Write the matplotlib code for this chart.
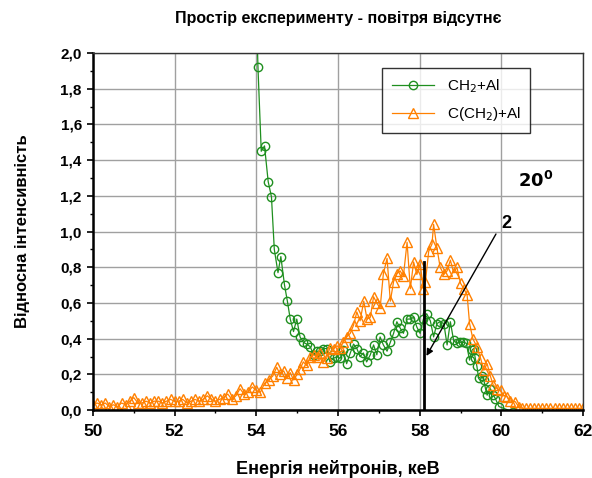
import matplotlib
matplotlib.use("Agg")
import matplotlib.pyplot as plt
from matplotlib.ticker import MultipleLocator

plt.rcParams['font.family'] = ['Liberation Sans', 'DejaVu Sans']

# CH2+Al (круги)
ch2_x = [53.96, 54.04, 54.12, 54.20, 54.29, 54.37, 54.44, 54.53, 54.60, 54.69,
         54.76, 54.83, 54.91, 54.99, 55.07, 55.15, 55.23, 55.32, 55.40, 55.48,
         55.56, 55.64, 55.72, 55.80, 55.89, 55.97, 56.05, 56.13, 56.21, 56.30,
         56.38, 56.46, 56.54, 56.62, 56.70, 56.79, 56.87, 56.95, 57.03, 57.11,
         57.20, 57.28, 57.36, 57.44, 57.52, 57.60, 57.69, 57.77, 57.85, 57.93,
         58.01, 58.09, 58.17, 58.26, 58.34, 58.42, 58.50, 58.59, 58.67, 58.75,
         58.83, 58.91, 58.99, 59.07, 59.14, 59.22, 59.28, 59.32, 59.36, 59.40,
         59.44, 59.52, 59.57, 59.61, 59.65, 59.73, 59.80, 59.85, 59.94, 60.28]
ch2_y = [2.60, 1.92, 1.45, 1.48, 1.28, 1.195, 0.90, 0.77, 0.86, 0.70,
         0.61, 0.51, 0.44, 0.51, 0.41, 0.38, 0.37, 0.355, 0.31, 0.33,
         0.33, 0.345, 0.345, 0.27, 0.29, 0.30, 0.29, 0.335, 0.26, 0.32,
         0.37, 0.345, 0.30, 0.32, 0.27, 0.31, 0.365, 0.31, 0.41, 0.365,
         0.33, 0.38, 0.43, 0.495, 0.46, 0.43, 0.51, 0.51, 0.52, 0.465,
         0.43, 0.51, 0.54, 0.50, 0.41, 0.485, 0.495, 0.485, 0.365, 0.495,
         0.39, 0.375, 0.38, 0.38, 0.375, 0.28, 0.336, 0.345, 0.29, 0.245,
         0.18, 0.19, 0.168, 0.12, 0.084, 0.12, 0.084, 0.065, 0.02, -0.01]

# C(CH2)+Al (трикутники)
cch2_x = [50.0, 50.1, 50.2, 50.3, 50.4, 50.5, 50.6, 50.7, 50.8, 50.9,
          51.0, 51.1, 51.2, 51.3, 51.4, 51.5, 51.6, 51.7, 51.8, 51.9,
          52.0, 52.1, 52.2, 52.3, 52.4, 52.5, 52.6, 52.7, 52.8, 52.9,
          53.0, 53.1, 53.2, 53.3, 53.4, 53.5, 53.6, 53.7, 53.8, 53.9,
          54.0, 54.1, 54.2, 54.3, 54.4, 54.5, 54.58, 54.67, 54.75, 54.83,
          54.91, 55.0, 55.07, 55.15, 55.23, 55.32, 55.4, 55.48, 55.56, 55.64,
          55.72, 55.8, 55.89, 55.97, 56.05, 56.13, 56.21, 56.3, 56.38, 56.46,
          56.54, 56.63, 56.71, 56.79, 56.87, 56.95, 57.03, 57.11, 57.2, 57.28,
          57.36, 57.44, 57.52, 57.6, 57.69, 57.77, 57.85, 57.93, 58.01, 58.09,
          58.14, 58.22, 58.3, 58.34, 58.42, 58.5, 58.59, 58.67, 58.75, 58.83,
          58.91, 59.0, 59.08, 59.16, 59.22, 59.3, 59.4, 59.49, 59.57, 59.65,
          59.73, 59.8, 59.9, 59.98, 60.06, 60.14, 60.22, 60.34, 60.42, 60.5,
          60.6, 60.7, 60.8, 60.9, 61.0, 61.1, 61.2, 61.3, 61.4, 61.5,
          61.6, 61.7, 61.8, 61.9, 62.0]
cch2_y = [0.03, 0.04, 0.03, 0.04, 0.02, 0.03, 0.02, 0.04, 0.03, 0.05,
          0.07, 0.04, 0.04, 0.05, 0.04, 0.05, 0.05, 0.04, 0.05, 0.06,
          0.05, 0.05, 0.06, 0.04, 0.05, 0.06, 0.05, 0.06, 0.08, 0.06,
          0.05, 0.06, 0.07, 0.09, 0.06, 0.08, 0.12, 0.09, 0.10, 0.13,
          0.11, 0.10, 0.15, 0.17, 0.19, 0.24, 0.20, 0.22, 0.18, 0.21,
          0.17, 0.20, 0.23, 0.27, 0.25, 0.30, 0.31, 0.30, 0.32, 0.27,
          0.29, 0.35, 0.345, 0.36, 0.35, 0.38, 0.41, 0.43, 0.476, 0.55,
          0.50, 0.61, 0.51, 0.52, 0.635, 0.60, 0.57, 0.765, 0.85, 0.61,
          0.72, 0.765, 0.78, 0.75, 0.94, 0.68, 0.83, 0.76, 0.82, 0.68,
          0.72, 0.89, 0.93, 1.04, 0.91, 0.80, 0.76, 0.78, 0.84, 0.77,
          0.80, 0.71, 0.68, 0.645, 0.485, 0.40, 0.355, 0.29, 0.224, 0.26,
          0.19, 0.14, 0.12, 0.11, 0.08, 0.075, 0.05, 0.047, 0.02, 0.01,
          0.01, 0.01, 0.01, 0.01, 0.01, 0.01, 0.01, 0.01, 0.01, 0.01,
          0.01, 0.01, 0.01, 0.01, 0.01]

x_ticks = [50, 52, 54, 56, 58, 60, 62]
y_ticks = [0.0, 0.2, 0.4, 0.6, 0.8, 1.0, 1.2, 1.4, 1.6, 1.8, 2.0]
y_tick_labels = ["0,0", "0,2", "0,4", "0,6", "0,8", "1,0", "1,2", "1,4", "1,6", "1,8", "2,0"]

green = "#1f8f1f"
orange = "#ff8000"

fig = plt.figure(figsize=(5.92, 4.78), dpi=100)
ax = fig.add_axes([0.157, 0.142, 0.828, 0.747])

ax.plot(ch2_x, ch2_y, color=green, lw=0.9, marker="o", ms=6, mfc="none",
        mec=green, mew=1.0, label="CH$_2$+Al")
ax.plot(cch2_x, cch2_y, color=orange, lw=0.9, marker="^", ms=7, mfc="none",
        mec=orange, mew=1.0, label="C(CH$_2$)+Al")

ax.set_xlim(50, 62)
ax.set_ylim(0, 2.0)
ax.set_xticks(x_ticks)
ax.set_yticks(y_ticks)
ax.set_yticklabels(y_tick_labels)
ax.xaxis.set_minor_locator(MultipleLocator(1))
ax.yaxis.set_minor_locator(MultipleLocator(0.1))
ax.grid(True, which="major", color="#a0a0a0", lw=1.0)
ax.set_axisbelow(True)

for lbl in ax.get_xticklabels():
    lbl.set_fontweight("bold")
    lbl.set_fontsize(12.5)
for lbl in ax.get_yticklabels():
    lbl.set_fontweight("bold")
    lbl.set_fontsize(11)

ax.tick_params(axis="x", which="major", direction="out", length=4, width=1.2, pad=6)
ax.tick_params(axis="y", which="major", direction="out", length=4, width=1.2, pad=4)
ax.tick_params(axis="both", which="minor", direction="out", length=2.5, width=1.0)
ax.spines["left"].set_linewidth(1.8)
ax.spines["bottom"].set_linewidth(1.8)
ax.spines["top"].set_linewidth(1.0)
ax.spines["right"].set_linewidth(1.0)
ax.spines["top"].set_color("#333333")
ax.spines["right"].set_color("#333333")

ax.set_title("Простір експерименту - повітря відсутнє", fontsize=11.5,
             fontweight="bold", pad=22)
ax.set_xlabel("Енергія нейтронів, кеВ", fontsize=13, fontweight="bold", labelpad=15)
ax.set_ylabel("Відносна інтенсивність", fontsize=12, fontweight="bold", labelpad=22)

# вертикальна лінія та стрілка
ax.plot([58.1, 58.1], [0.0, 0.83], color="black", lw=2.0)
ax.annotate("", xy=(58.13, 0.29), xytext=(59.9, 1.0),
            arrowprops=dict(arrowstyle="-|>", color="black", lw=1.0,
                            mutation_scale=10))
ax.text(60.0, 1.02, "2", fontsize=13, fontweight="bold")
ax.text(60.4, 1.25, r"$\mathbf{20^0}$", fontsize=13)

leg = ax.legend(loc="upper left", bbox_to_anchor=(0.575, 0.98), fontsize=11,
                frameon=True, fancybox=False, edgecolor="black",
                handlelength=2.8, borderpad=0.6, labelspacing=0.7)
leg.get_frame().set_linewidth(1.0)

fig.savefig("out.png", dpi=100)
